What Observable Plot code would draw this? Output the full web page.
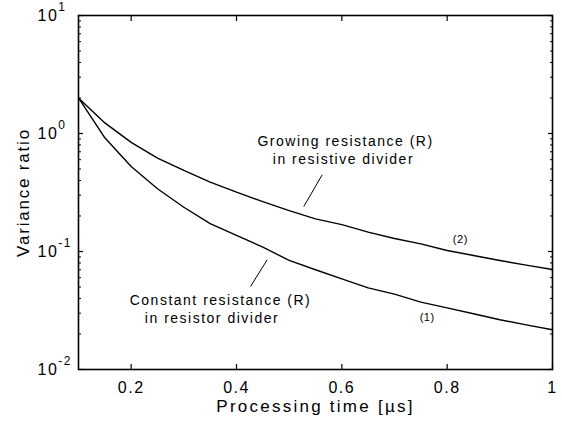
<!DOCTYPE html>
<html><head><meta charset="utf-8">
<script src="https://cdn.jsdelivr.net/npm/d3@7"></script>
<script src="https://cdn.jsdelivr.net/npm/@observablehq/plot@0.6"></script>
<style>
html,body{margin:0;padding:0;background:#fff;}
#chart svg, #chart svg text{font-family:"Liberation Sans", Arial, Helvetica, sans-serif !important;}
#chart svg text{letter-spacing:1.5px;}
</style></head><body><div id="chart"></div>
<script>
// Processing time [µs]
const time = [0.1,0.15,0.2,0.25,0.3,0.35,0.4,0.45,0.5,0.55,0.6,0.65,0.7,0.75,0.8,0.85,0.9,0.95,1.0];
// (1) Constant resistance (R) in resistor divider
const constantR = [2.0,0.92,0.525,0.34,0.237,0.172,0.137,0.109,0.084,0.070,0.0587,0.0492,0.0435,0.0372,0.0333,0.0297,0.0264,0.0239,0.0217];
// (2) Growing resistance (R) in resistive divider
const growingR = [2.0,1.23,0.84,0.618,0.486,0.387,0.318,0.265,0.222,0.189,0.169,0.146,0.129,0.116,0.102,0.0925,0.0839,0.0766,0.0703];

const xTicks = [0.2,0.4,0.6,0.8,1];
const xTickLabels = ["0.2","0.4","0.6","0.8","1"];
const yMajorTicks = [0.01,0.1,1,10];
const yExponents = ["-2","-1","0","1"];
const yMinorMultipliers = [2,3,4,5,6,7,8,9];
const xTitle = "Processing time [µs]";
const yTitle = "Variance ratio";

// annotations (data coordinates)
const annoText = ["Growing resistance (R)","in resistive divider","Constant resistance (R)","in resistor divider"];
const annoX = [0.607,0.603,0.3696,0.3535];
const annoY = [0.855,0.602,0.0385,0.0271];
const curveLabels = ["(2)","(1)"];
const curveLabelX = [0.825,0.762];
const curveLabelY = [0.1264,0.0277];
const leaderX1 = [0.5627,0.4583], leaderY1 = [0.4467,0.0851];
const leaderX2 = [0.5278,0.4266], leaderY2 = [0.2406,0.0505];

const rows = time.flatMap((t,i)=>[{t, v: constantR[i], s:"1"},{t, v: growingR[i], s:"2"}]);
const yMinorTicks = yMajorTicks.slice(0,-1).flatMap(d=>yMinorMultipliers.map(m=>m*d));
const annos = annoText.map((s,i)=>({s, x: annoX[i], y: annoY[i]}));
const clabs = curveLabels.map((s,i)=>({s, x: curveLabelX[i], y: curveLabelY[i]}));
const leaders = leaderX1.map((d,i)=>({x1:d, y1:leaderY1[i], x2:leaderX2[i], y2:leaderY2[i]}));
const expByTick = new Map(yMajorTicks.map((d,i)=>[d, yExponents[i]]));

const chart = Plot.plot({
  width: 562, height: 425,
  marginLeft: 78, marginRight: 10, marginTop: 15, marginBottom: 56,
  style: {fontFamily: "'Liberation Sans', Arial, Helvetica, sans-serif", fontSize: "16px", color: "#000", background: "#fff"},
  x: {domain: [0.1, 1], label: null},
  y: {type: "log", domain: [0.01, 10], label: null},
  marks: [
    Plot.line(rows, {x: "t", y: "v", z: "s", stroke: "#000", strokeWidth: 1.4}),
    Plot.link(leaders, {x1: "x1", y1: "y1", x2: "x2", y2: "y2", stroke: "#000", strokeWidth: 1}),
    Plot.text(annos, {x: "x", y: "y", text: "s", fontSize: 14}),
    Plot.text(clabs, {x: "x", y: "y", text: "s", fontSize: 11}),
    Plot.axisX({anchor: "bottom", ticks: xTicks, tickSize: -5, tickPadding: 17, strokeWidth: 1.2, tickFormat: (d) => xTickLabels[xTicks.indexOf(d)], label: null}),
    Plot.axisX({anchor: "top", ticks: xTicks, tickSize: -5, strokeWidth: 1.2, tickFormat: () => "", label: null}),
    Plot.axisY({anchor: "left", ticks: yMajorTicks, tickSize: -5, strokeWidth: 1.2, tickFormat: () => "", label: null}),
    Plot.axisY({anchor: "left", ticks: yMinorTicks, tickSize: -3, strokeWidth: 1, tickFormat: () => "", label: null}),
    Plot.axisY({anchor: "right", ticks: yMajorTicks, tickSize: -5, strokeWidth: 1.2, tickFormat: () => "", label: null}),
    Plot.axisY({anchor: "right", ticks: yMinorTicks, tickSize: -3, strokeWidth: 1, tickFormat: () => "", label: null}),
    Plot.axisY({anchor: "left", ticks: yMajorTicks, tickSize: 0, tickPadding: 0, dx: -41, textAnchor: "start", tickFormat: (d) => "10^" + expByTick.get(d), label: null}),
    Plot.text([xTitle], {text: d => d, frameAnchor: "bottom", textAnchor: "middle", lineAnchor: "middle", dy: 37, fontSize: 17}),
    Plot.text([yTitle], {text: d => d, frameAnchor: "left", textAnchor: "middle", lineAnchor: "middle", rotate: -90, dx: -55, fontSize: 17}),
    Plot.frame({stroke: "#000", strokeWidth: 1.6})
  ]
});
document.getElementById("chart").append(chart);

// letter spacing per text, and superscript exponents on the y tick labels
const spacing = new Map([[xTitle, "2.25px"], [yTitle, "1.8px"], ["(1)", "0.5px"], ["(2)", "0.5px"]]);
d3.select(chart).selectAll("text").each(function() {
  const s = spacing.get(this.textContent);
  if (s) this.style.letterSpacing = s;
});
d3.select(chart).selectAll("text").filter(function() { return this.textContent.includes("^"); }).each(function() {
  const [b, e] = this.textContent.split("^");
  const t = d3.select(this);
  t.text(null);
  t.append("tspan").text(b);
  t.append("tspan").attr("dy", -10).attr("font-size", 12).text(e);
});
</script></body></html>
